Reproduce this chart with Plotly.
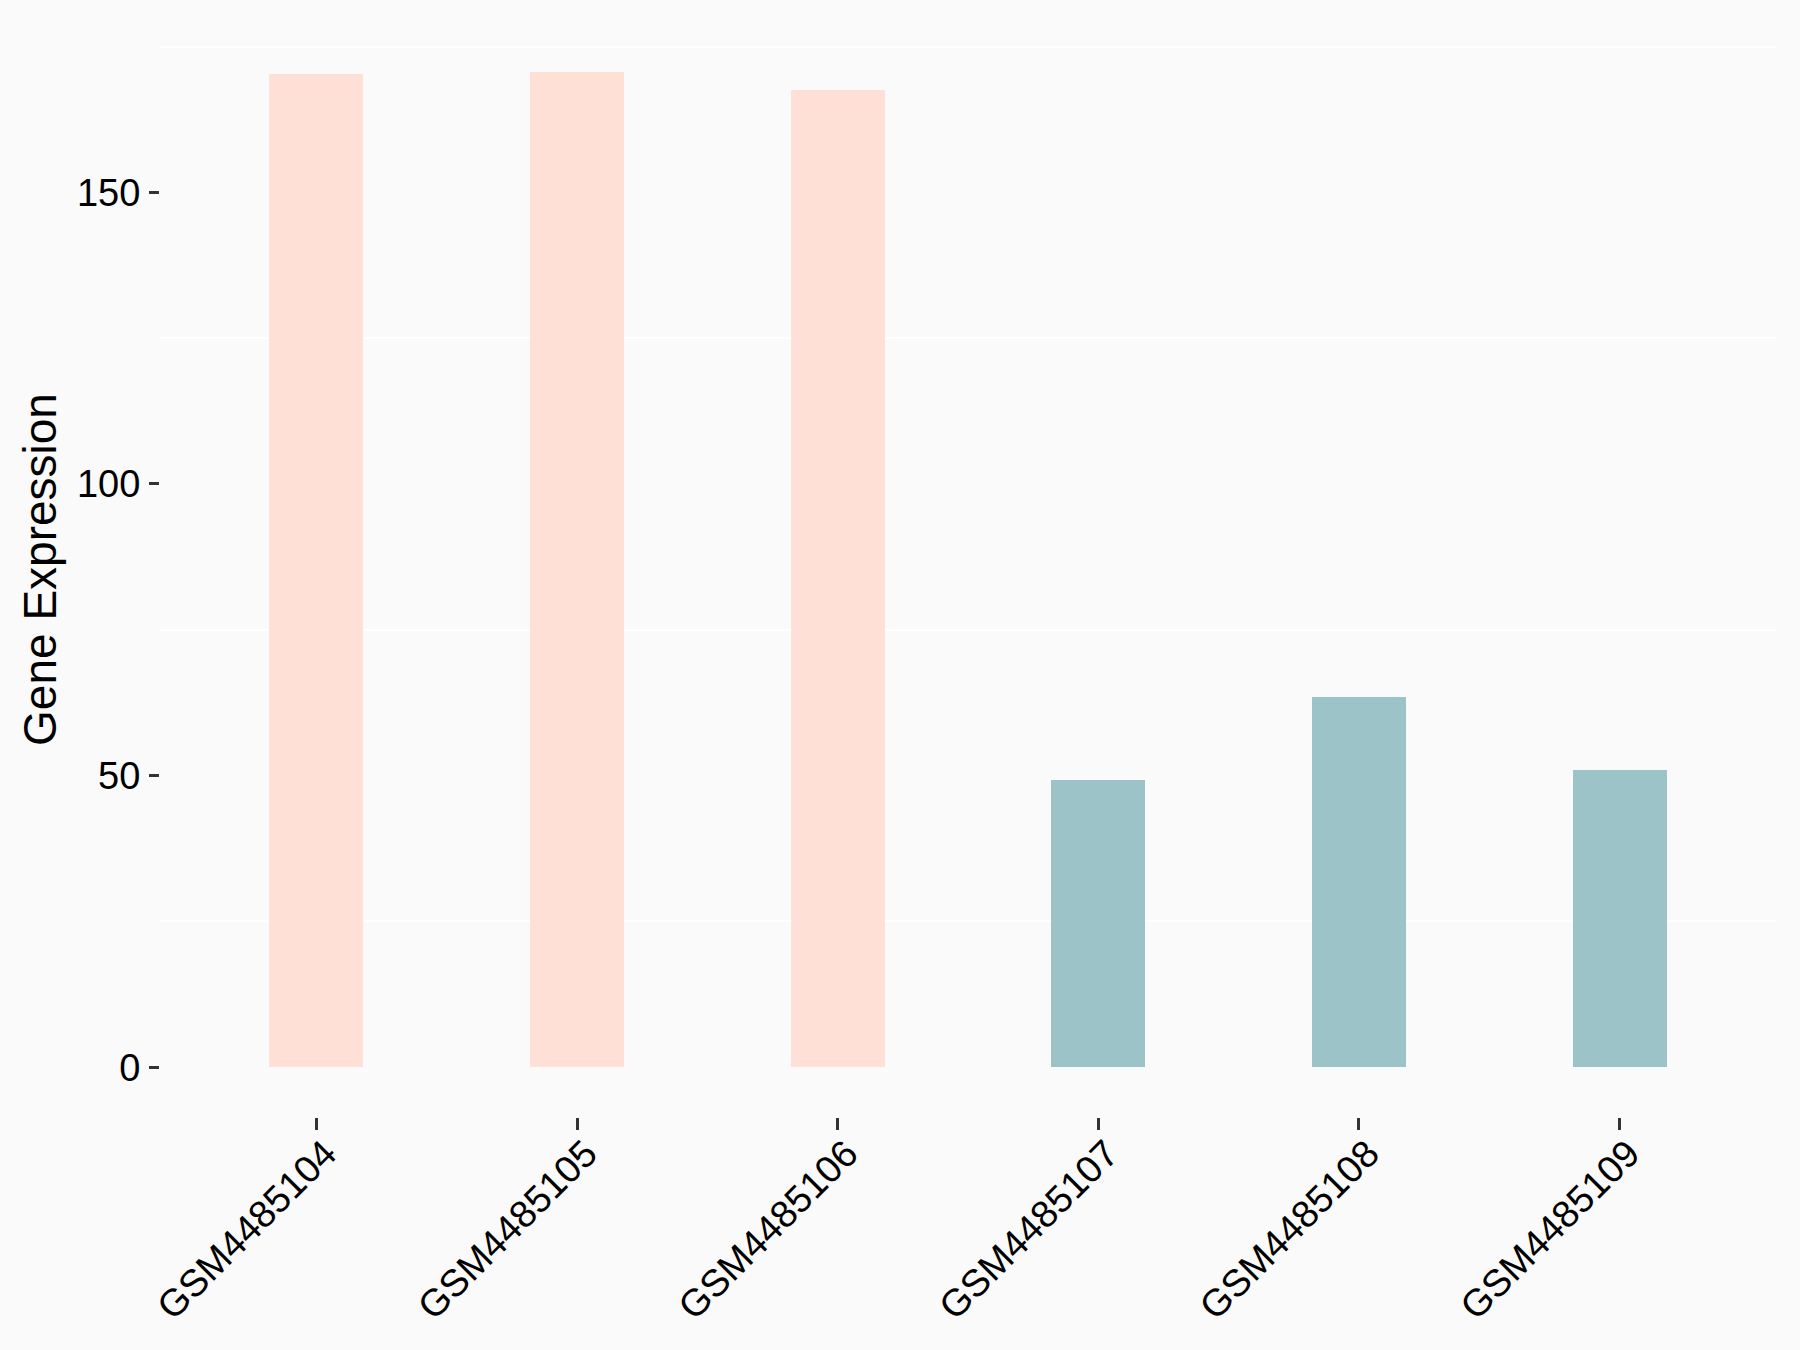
import plotly.graph_objects as go

samples = ["GSM4485104", "GSM4485105", "GSM4485106", "GSM4485107", "GSM4485108", "GSM4485109"]
expression = [170.2, 170.7, 167.6, 49.3, 63.5, 51.0]
groups = ["A", "A", "A", "B", "B", "B"]
group_colors = {"A": "#FEE0D6", "B": "#9CC3C7"}
y_tickvals = [0, 50, 100, 150]
y_ticktext = ["0", "50", "100", "150"]

bar_colors = [group_colors[g] for g in groups]

fig = go.Figure()
fig.add_trace(go.Bar(
    x=samples, y=expression, width=0.36,
    marker=dict(color=bar_colors, line=dict(width=0)),
    showlegend=False,
))

fig.update_layout(
    width=1800, height=1350,
    margin=dict(l=160, r=24, t=22, b=233),
    paper_bgcolor="#FAFAFA", plot_bgcolor="#FAFAFA",
    font=dict(family="Liberation Sans, Arial, sans-serif", color="black", size=38),
    bargap=0,
)
fig.update_xaxes(
    type="category", range=[-0.6, 5.6], automargin=False,
    showgrid=False, zeroline=False, showline=False,
    ticks="outside", ticklen=12, tickwidth=3, tickcolor="#333333",
    tickangle=-45, tickfont=dict(size=38, color="black"),
    ticklabelstandoff=-14, ticklabelshift=9,
)
fig.update_yaxes(
    range=[-8.54, 179.2], automargin=False,
    tickvals=y_tickvals, ticktext=y_ticktext,
    showgrid=False, zeroline=False, showline=False,
    ticks="outside", ticklen=10, tickwidth=3, tickcolor="#333333",
    tickfont=dict(size=38, color="black"),
    ticklabelstandoff=1,
    minor=dict(tick0=25, dtick=50, showgrid=True, gridcolor="#FFFFFF", gridwidth=2, ticks=""),
    title=dict(text="Gene Expression", font=dict(size=46, color="black"), standoff=5),
)

fig.write_html(
    "out.html",
    config={"displayModeBar": False},
    post_script="document.body.style.margin='0';document.body.style.padding='0';"
                "document.body.style.background='#FAFAFA';document.body.style.overflow='hidden';",
)
